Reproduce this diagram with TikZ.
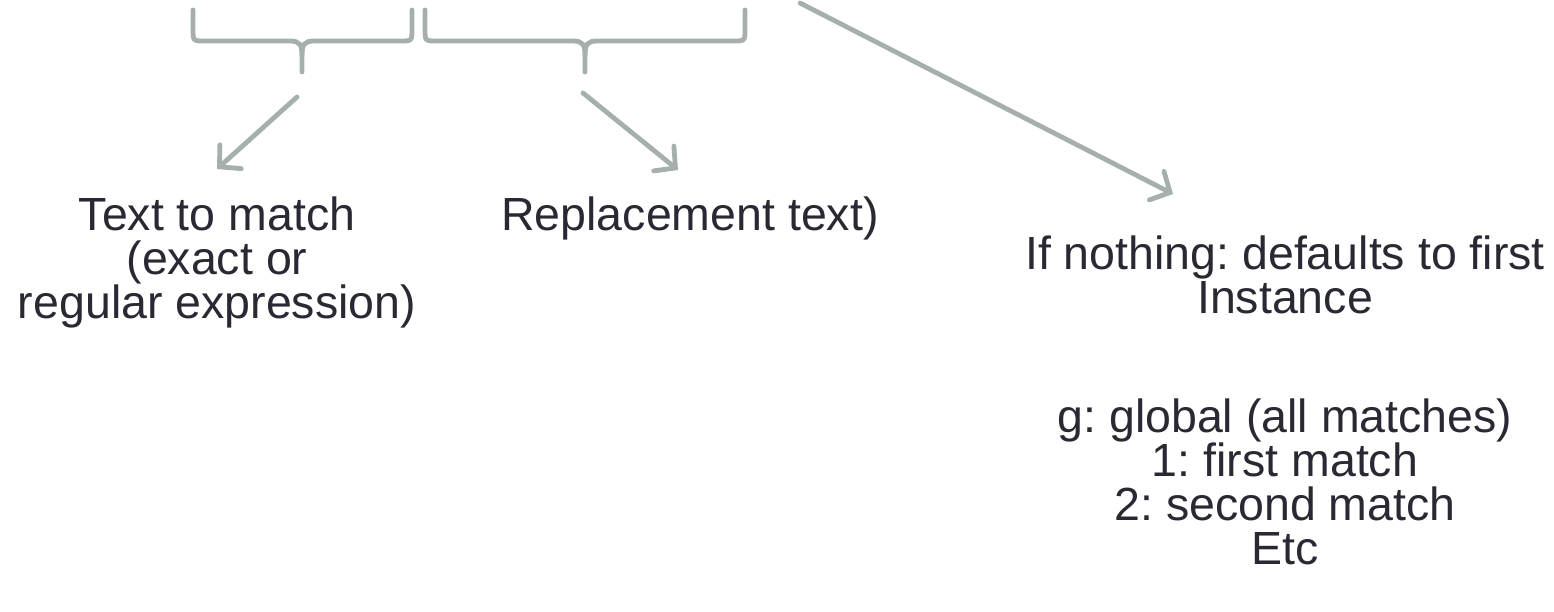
\documentclass[tikz,border=0pt]{standalone}
\usepackage{fontspec}
\setmainfont{Liberation Sans}
\frenchspacing
\usetikzlibrary{arrows.meta}
\definecolor{txt}{HTML}{292933}
\definecolor{gline}{HTML}{A6B0AA}
\tikzset{
  brace/.style={draw=gline, line width=4.8pt, line cap=round, line join=round},
  arr/.style={draw=gline, line width=4.8pt, line cap=round,
    -{Straight Barb[length=15pt, width=32pt, line cap=round]}},
  lbl/.style={text=txt, align=center, inner sep=0pt,
    font=\fontsize{46.5}{44}\selectfont}
}
\begin{document}
\begin{tikzpicture}[x=1pt,y=-1pt]
\useasboundingbox (0,0) rectangle (1554,612);
% braces
\draw[brace] (193,10) -- (193,29) .. controls (193,41) .. (205,41) -- (290,41)
  .. controls (300,41) and (302,45) .. (302,55) -- (302,72);
\draw[brace] (302,55) .. controls (302,45) and (304,41) .. (314,41) -- (400,41)
  .. controls (412,41) .. (412,29) -- (412,10);
\draw[brace] (425,10) -- (425,29) .. controls (425,41) .. (437,41) -- (573,41)
  .. controls (583,41) and (585,45) .. (585,55) -- (585,72);
\draw[brace] (585,55) .. controls (585,45) and (587,41) .. (597,41) -- (733,41)
  .. controls (745,41) .. (745,29) -- (745,10);
% labels
\node[lbl] (match) at (217,262) {Text to match\\(exact or\\regular expression)};
\node[lbl] (repl) at (690,218) {Replacement text)};
\node[lbl] (flag) at (1285,275) {If nothing: defaults to first\\Instance};
\node[lbl] (opts) at (1285,482) {g: global (all matches)\\1: first match\\2: second match\\Etc};
% arrow ends
\coordinate (a1s) at (297,97);
\coordinate (a1e) at (217,169);
\coordinate (a2s) at (583,93);
\coordinate (a2e) at (678,170);
\coordinate (a3s) at (800,3);
\coordinate (a3e) at (1173,194);
\draw[arr] (a1s) -- (a1e);
\draw[arr] (a2s) -- (a2e);
\draw[arr] (a3s) -- (a3e);
\end{tikzpicture}
\end{document}
